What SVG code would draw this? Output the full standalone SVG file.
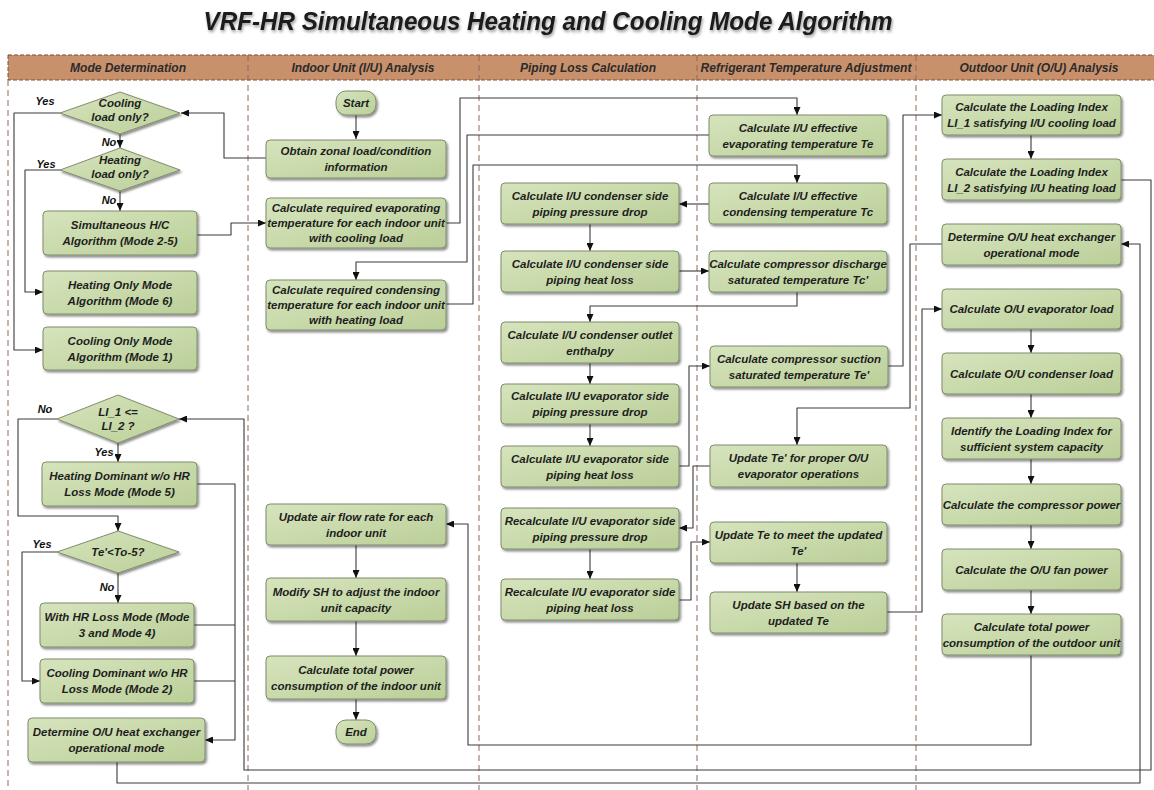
<svg xmlns="http://www.w3.org/2000/svg" width="1154" height="790" viewBox="0 0 1154 790">
<defs>
<linearGradient id="g" x1="0" y1="0" x2="1" y2="1"><stop offset="0" stop-color="#d6e4bd"/><stop offset="1" stop-color="#bbcf98"/></linearGradient>
<filter id="sh" x="-10%" y="-10%" width="130%" height="140%"><feDropShadow dx="1.5" dy="2" stdDeviation="1.2" flood-color="#000" flood-opacity="0.45"/></filter>
<filter id="tsh" x="-5%" y="-30%" width="110%" height="170%"><feDropShadow dx="1" dy="2" stdDeviation="1.5" flood-color="#000" flood-opacity="0.4"/></filter>
<marker id="ah" markerWidth="8" markerHeight="7" refX="8" refY="3.5" orient="auto" markerUnits="userSpaceOnUse"><path d="M0,0 L8,3.5 L0,7 z" fill="#111"/></marker>
<style>
.n rect,.n polygon{fill:url(#g);stroke:#7f8c6c;stroke-width:1;filter:url(#sh)}
.n text{font-family:"Liberation Sans",Arial,sans-serif;font-weight:bold;font-style:italic;font-size:11.5px;fill:#1e1e1e;text-anchor:middle}
.lbl{font-family:"Liberation Sans",Arial,sans-serif;font-weight:bold;font-style:italic;font-size:11px;fill:#111;text-anchor:middle}
.hd{font-family:"Liberation Sans",Arial,sans-serif;font-weight:bold;font-style:italic;font-size:12px;fill:#2b2b2b;text-anchor:middle}
.lane{stroke:#8b6a5a;stroke-width:1;stroke-dasharray:6,4;fill:none}
#connectors path{fill:none;stroke:#3a3a3a;stroke-width:1.1;stroke-linejoin:round}
.a{marker-end:url(#ah)}
</style>
</defs>
<rect width="1154" height="790" fill="#fff"/>
<text x="548" y="30" textLength="689" lengthAdjust="spacingAndGlyphs" style="font-family:'Liberation Sans',Arial,sans-serif;font-weight:bold;font-style:italic;font-size:25px;fill:#1a1a1a" text-anchor="middle" filter="url(#tsh)">VRF-HR Simultaneous Heating and Cooling Mode Algorithm</text>
<g id="lanes">
<rect x="8" y="55" width="1150" height="25" fill="#c8916c" stroke="#7a4f35" stroke-dasharray="4,2"/>
<line class="lane" x1="248" y1="55" x2="248" y2="790"/>
<line class="lane" x1="479" y1="55" x2="479" y2="790"/>
<line class="lane" x1="697" y1="55" x2="697" y2="790"/>
<line class="lane" x1="916" y1="55" x2="916" y2="790"/>
<line class="lane" x1="8" y1="80" x2="8" y2="790"/>
<text class="hd" x="128" y="72" textLength="116" lengthAdjust="spacingAndGlyphs">Mode Determination</text>
<text class="hd" x="363" y="72" textLength="143" lengthAdjust="spacingAndGlyphs">Indoor Unit (I/U) Analysis</text>
<text class="hd" x="588" y="72" textLength="136" lengthAdjust="spacingAndGlyphs">Piping Loss Calculation</text>
<text class="hd" x="806" y="72" textLength="211" lengthAdjust="spacingAndGlyphs">Refrigerant Temperature Adjustment</text>
<text class="hd" x="1039" y="72" textLength="159" lengthAdjust="spacingAndGlyphs">Outdoor Unit (O/U) Analysis</text>
</g>
<g id="connectors">
<path class="a" d="M356,115 V139"/>
<path class="a" d="M266,158 H224 V113 H181"/>
<path class="a" d="M120,134 V148"/>
<path class="a" d="M60,113 H14 V350 H43"/>
<path class="a" d="M120,191 V211"/>
<path class="a" d="M60,170 H25 V292 H43"/>
<path class="a" d="M197,235 H231 V223 H266"/>
<path class="a" d="M446,223 H460 V98 H797 V115"/>
<path class="a" d="M709,135 H467 V262 H356 V280"/>
<path class="a" d="M446,304 H473 V165 H797 V183"/>
<path class="a" d="M709,204 H679"/>
<path class="a" d="M590,224 V251"/>
<path class="a" d="M679,271 H709"/>
<path class="a" d="M797,292 V306 H590 V322"/>
<path class="a" d="M590,363 V384"/>
<path class="a" d="M590,424 V446"/>
<path class="a" d="M679,466 H689 V366 H710"/>
<path class="a" d="M888,366 H903 V115 H942"/>
<path class="a" d="M1031,135 V159"/>
<path class="a" d="M1121,180 H1151 V770 H244 V419 H179"/>
<path class="a" d="M118,443 V462"/>
<path class="a" d="M57,419 H18 V516 H118 V531"/>
<path class="a" d="M118,573 V603"/>
<path class="a" d="M57,552 H22 V681 H40"/>
<path class="a" d="M197,484 H235 V740 H205"/>
<path d="M194,625 H235"/>
<path d="M194,681 H235"/>
<path class="a" d="M117,762 V783 H1140 V244 H1121"/>
<path class="a" d="M942,244 H910 V408 H797 V445"/>
<path class="a" d="M710,466 H693 V528 H679"/>
<path class="a" d="M590,549 V579"/>
<path class="a" d="M679,600 H691 V542 H710"/>
<path class="a" d="M797,563 V592"/>
<path class="a" d="M887,612 H922 V309 H942"/>
<path class="a" d="M1031,329 V353"/>
<path class="a" d="M1031,394 V418"/>
<path class="a" d="M1031,459 V484"/>
<path class="a" d="M1031,525 V549"/>
<path class="a" d="M1031,590 V614"/>
<path class="a" d="M1031,655 V745 H468 V524 H446"/>
<path class="a" d="M356,545 V578"/>
<path class="a" d="M356,621 V656"/>
<path class="a" d="M356,699 V720"/>
<text class="lbl" x="45" y="105">Yes</text>
<text class="lbl" x="109" y="146">No</text>
<text class="lbl" x="46" y="168">Yes</text>
<text class="lbl" x="109" y="204">No</text>
<text class="lbl" x="45" y="413">No</text>
<text class="lbl" x="104" y="456">Yes</text>
<text class="lbl" x="42" y="548">Yes</text>
<text class="lbl" x="107" y="591">No</text>
</g>
<g id="d_cool" class="n"><polygon points="60,113 120,92 180,113 120,134"/><text x="120"><tspan x="120" y="107">Cooling</tspan><tspan x="120" y="121">load only?</tspan></text></g>
<g id="d_heat" class="n"><polygon points="60,170 120,148 180,170 120,191"/><text x="120"><tspan x="120" y="164">Heating</tspan><tspan x="120" y="178">load only?</tspan></text></g>
<g id="n_simul" class="n"><rect x="43" y="211" width="154" height="44" rx="4"/><text><tspan x="120" y="229">Simultaneous H/C</tspan><tspan x="120" y="245">Algorithm (Mode 2-5)</tspan></text></g>
<g id="n_heatonly" class="n"><rect x="43" y="271" width="154" height="43" rx="4"/><text><tspan x="120" y="288.5">Heating Only Mode</tspan><tspan x="120" y="304.5">Algorithm (Mode 6)</tspan></text></g>
<g id="n_coolonly" class="n"><rect x="43" y="327" width="154" height="43" rx="4"/><text><tspan x="120" y="344.5">Cooling Only Mode</tspan><tspan x="120" y="360.5">Algorithm (Mode 1)</tspan></text></g>
<g id="d_li" class="n"><polygon points="57,419 118,395 179,419 118,443"/><text><tspan x="118" y="416">LI_1 &lt;=</tspan><tspan x="118" y="430">LI_2 ?</tspan></text></g>
<g id="n_hdom" class="n"><rect x="42" y="462" width="155" height="44" rx="4"/><text><tspan x="119.5" y="480">Heating Dominant w/o HR</tspan><tspan x="119.5" y="496">Loss Mode (Mode 5)</tspan></text></g>
<g id="d_te" class="n"><polygon points="57,552 118,531 179,552 118,573"/><text x="118" y="556">Te'&lt;To-5?</text></g>
<g id="n_withhr" class="n"><rect x="40" y="603" width="154" height="44" rx="4"/><text><tspan x="117" y="621">With HR Loss Mode (Mode</tspan><tspan x="117" y="637">3 and Mode 4)</tspan></text></g>
<g id="n_cdom" class="n"><rect x="40" y="659" width="154" height="44" rx="4"/><text><tspan x="117" y="677">Cooling Dominant w/o HR</tspan><tspan x="117" y="693">Loss Mode (Mode 2)</tspan></text></g>
<g id="n_detL" class="n"><rect x="28" y="718" width="177" height="44" rx="4"/><text><tspan x="116.5" y="736">Determine O/U heat exchanger</tspan><tspan x="116.5" y="752">operational mode</tspan></text></g>
<g id="n_start" class="n"><rect x="336" y="91" width="40" height="24" rx="10"/><text x="356" y="107">Start</text></g>
<g id="n_obtain" class="n"><rect x="266" y="140" width="180" height="38" rx="4"/><text><tspan x="356" y="155">Obtain zonal load/condition</tspan><tspan x="356" y="171">information</tspan></text></g>
<g id="n_evapreq" class="n"><rect x="266" y="198" width="180" height="50" rx="4"/><text><tspan x="356" y="212">Calculate required evaporating</tspan><tspan x="356" y="227">temperature for each indoor unit</tspan><tspan x="356" y="242">with cooling load</tspan></text></g>
<g id="n_condreq" class="n"><rect x="266" y="280" width="180" height="50" rx="4"/><text><tspan x="356" y="294">Calculate required condensing</tspan><tspan x="356" y="309">temperature for each indoor unit</tspan><tspan x="356" y="324">with heating load</tspan></text></g>
<g id="n_airflow" class="n"><rect x="266" y="504" width="180" height="41" rx="4"/><text><tspan x="356" y="520.5">Update air flow rate for each</tspan><tspan x="356" y="536.5">indoor unit</tspan></text></g>
<g id="n_modsh" class="n"><rect x="266" y="578" width="180" height="43" rx="4"/><text><tspan x="356" y="595.5">Modify SH to adjust the indoor</tspan><tspan x="356" y="611.5">unit capacity</tspan></text></g>
<g id="n_iutotal" class="n"><rect x="266" y="656" width="180" height="43" rx="4"/><text><tspan x="356" y="673.5">Calculate total power</tspan><tspan x="356" y="689.5">consumption of the indoor unit</tspan></text></g>
<g id="n_end" class="n"><rect x="336" y="720" width="40" height="24" rx="10"/><text x="356" y="736">End</text></g>
<g id="n_cpd" class="n"><rect x="501" y="183" width="178" height="41" rx="4"/><text><tspan x="590" y="199.5">Calculate I/U condenser side</tspan><tspan x="590" y="215.5">piping pressure drop</tspan></text></g>
<g id="n_chl" class="n"><rect x="501" y="251" width="178" height="41" rx="4"/><text><tspan x="590" y="267.5">Calculate I/U condenser side</tspan><tspan x="590" y="283.5">piping heat loss</tspan></text></g>
<g id="n_coe" class="n"><rect x="501" y="322" width="178" height="41" rx="4"/><text><tspan x="590" y="338.5">Calculate I/U condenser outlet</tspan><tspan x="590" y="354.5">enthalpy</tspan></text></g>
<g id="n_epd" class="n"><rect x="501" y="384" width="178" height="40" rx="4"/><text><tspan x="590" y="400">Calculate I/U evaporator side</tspan><tspan x="590" y="416">piping pressure drop</tspan></text></g>
<g id="n_ehl" class="n"><rect x="501" y="446" width="178" height="41" rx="4"/><text><tspan x="590" y="462.5">Calculate I/U evaporator side</tspan><tspan x="590" y="478.5">piping heat loss</tspan></text></g>
<g id="n_repd" class="n"><rect x="501" y="508" width="178" height="41" rx="4"/><text><tspan x="590" y="524.5">Recalculate I/U evaporator side</tspan><tspan x="590" y="540.5">piping pressure drop</tspan></text></g>
<g id="n_rehl" class="n"><rect x="501" y="579" width="178" height="41" rx="4"/><text><tspan x="590" y="595.5">Recalculate I/U evaporator side</tspan><tspan x="590" y="611.5">piping heat loss</tspan></text></g>
<g id="n_te" class="n"><rect x="709" y="115" width="178" height="41" rx="4"/><text><tspan x="798" y="131.5">Calculate I/U effective</tspan><tspan x="798" y="147.5">evaporating temperature Te</tspan></text></g>
<g id="n_tc" class="n"><rect x="709" y="183" width="178" height="41" rx="4"/><text><tspan x="798" y="199.5">Calculate I/U effective</tspan><tspan x="798" y="215.5">condensing temperature Tc</tspan></text></g>
<g id="n_tcp" class="n"><rect x="709" y="251" width="178" height="41" rx="4"/><text><tspan x="798" y="267.5">Calculate compressor discharge</tspan><tspan x="798" y="283.5">saturated temperature Tc'</tspan></text></g>
<g id="n_tep" class="n"><rect x="710" y="346" width="178" height="41" rx="4"/><text><tspan x="799" y="362.5">Calculate compressor suction</tspan><tspan x="799" y="378.5">saturated temperature Te'</tspan></text></g>
<g id="n_ute" class="n"><rect x="710" y="445" width="177" height="42" rx="4"/><text><tspan x="798.5" y="462">Update Te' for proper O/U</tspan><tspan x="798.5" y="478">evaporator operations</tspan></text></g>
<g id="n_ute2" class="n"><rect x="710" y="522" width="177" height="41" rx="4"/><text><tspan x="798.5" y="538.5">Update Te to meet the updated</tspan><tspan x="798.5" y="554.5">Te'</tspan></text></g>
<g id="n_ush" class="n"><rect x="710" y="592" width="177" height="41" rx="4"/><text><tspan x="798.5" y="608.5">Update SH based on the</tspan><tspan x="798.5" y="624.5">updated Te</tspan></text></g>
<g id="n_li1" class="n"><rect x="942" y="95" width="179" height="40" rx="4"/><text><tspan x="1031.5" y="111">Calculate the Loading Index</tspan><tspan x="1031.5" y="127">LI_1 satisfying I/U cooling load</tspan></text></g>
<g id="n_li2" class="n"><rect x="942" y="159" width="179" height="41" rx="4"/><text><tspan x="1031.5" y="175.5">Calculate the Loading Index</tspan><tspan x="1031.5" y="191.5">LI_2 satisfying I/U heating load</tspan></text></g>
<g id="n_detR" class="n"><rect x="942" y="224" width="179" height="41" rx="4"/><text><tspan x="1031.5" y="240.5">Determine O/U heat exchanger</tspan><tspan x="1031.5" y="256.5">operational mode</tspan></text></g>
<g id="n_evl" class="n"><rect x="942" y="289" width="179" height="40" rx="4"/><text x="1031.5" y="313">Calculate O/U evaporator load</text></g>
<g id="n_cdl" class="n"><rect x="942" y="353" width="179" height="41" rx="4"/><text x="1031.5" y="377.5">Calculate O/U condenser load</text></g>
<g id="n_idli" class="n"><rect x="942" y="418" width="179" height="41" rx="4"/><text><tspan x="1031.5" y="434.5">Identify the Loading Index for</tspan><tspan x="1031.5" y="450.5">sufficient system capacity</tspan></text></g>
<g id="n_comp" class="n"><rect x="942" y="484" width="179" height="41" rx="4"/><text x="1031.5" y="508.5">Calculate the compressor power</text></g>
<g id="n_fan" class="n"><rect x="942" y="549" width="179" height="41" rx="4"/><text x="1031.5" y="573.5">Calculate the O/U fan power</text></g>
<g id="n_outot" class="n"><rect x="942" y="614" width="179" height="41" rx="4"/><text><tspan x="1031.5" y="630.5">Calculate total power</tspan><tspan x="1031.5" y="646.5">consumption of the outdoor unit</tspan></text></g>
</svg>
